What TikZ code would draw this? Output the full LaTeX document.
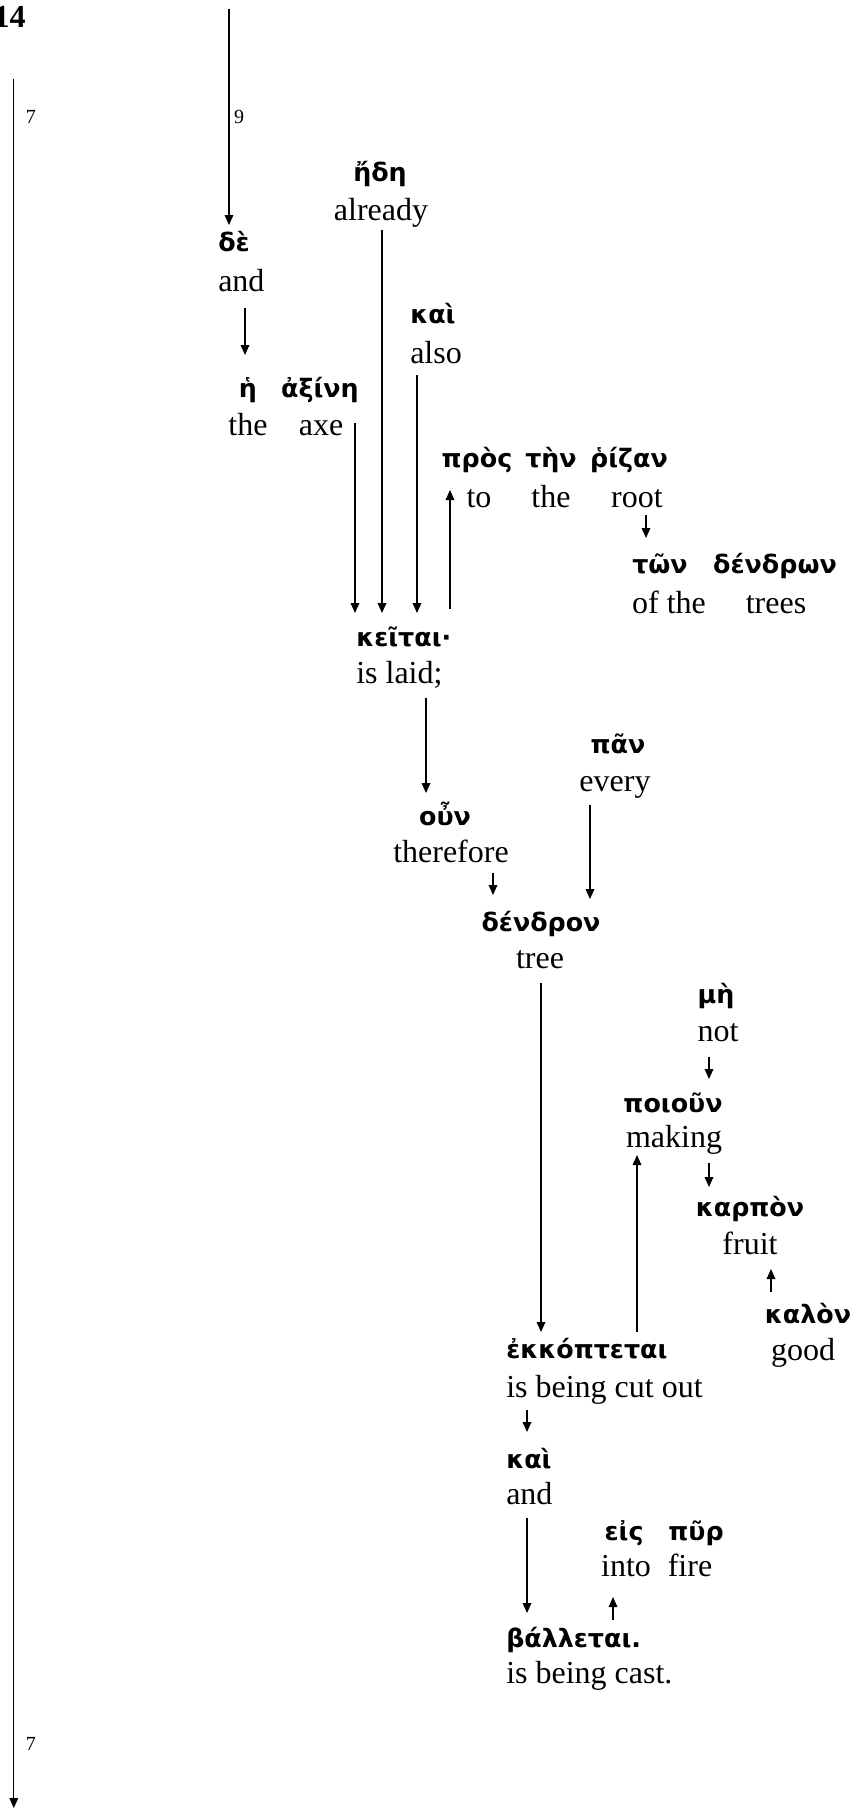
\documentclass[tikz,border=0pt]{standalone}
\usepackage{fontspec}
\setmainfont{Liberation Serif}
\newfontfamily\grk[Script=Greek]{DejaVu Sans}
\usetikzlibrary{arrows.meta}

\begin{document}
\begin{tikzpicture}[x=0.75pt,y=-0.75pt,
  gk/.style={font=\grk\bfseries\fontsize{19}{21}\selectfont, inner sep=0pt, anchor=base},
  en/.style={font=\fontsize{24}{26}\selectfont, inner sep=0pt, anchor=base},
  num/.style={font=\fontsize{15}{17}\selectfont, inner sep=0pt, anchor=base},
  link/.style={line width=0.9pt, -{Triangle[length=7.5pt,width=6.5pt]}}]
\useasboundingbox (0,0) rectangle (854,1810);

% verse number and clause markers
\node[font=\bfseries\fontsize{24}{26}\selectfont, inner sep=0pt, anchor=base east] (vs) at (26,27) {14};
\node[num] (n7a) at (31,123) {7};
\node[num] (n9) at (239,123) {9};
\node[num] (n7b) at (31,1750) {7};

% Greek words
\node[gk] (edh) at (380,181) {ἤδη};
\node[gk,anchor=base west] (de) at (218,251) {δὲ};
\node[gk,anchor=base west] (kai1) at (410,323) {καὶ};
\node[gk] (he) at (248,397) {ἡ};
\node[gk] (axine) at (320,397) {ἀξίνη};
\node[gk] (pros) at (477,467) {πρὸς};
\node[gk] (ten) at (551,467) {τὴν};
\node[gk] (rizan) at (629,467) {ῥίζαν};
\node[gk] (ton) at (660,573) {τῶν};
\node[gk] (dendron2) at (775,573) {δένδρων};
\node[gk,anchor=base west] (keitai) at (356,646) {κεῖται·};
\node[gk] (pan) at (618,753) {πᾶν};
\node[gk] (oun) at (445,825) {οὖν};
\node[gk] (dendron) at (541,931) {δένδρον};
\node[gk] (me) at (716,1003) {μὴ};
\node[gk] (poioun) at (673,1112) {ποιοῦν};
\node[gk] (karpon) at (750,1216) {καρπὸν};
\node[gk] (kalon) at (808,1323) {καλὸν};
\node[gk,anchor=base west] (ekk) at (506,1358) {ἐκκόπτεται};
\node[gk,anchor=base west] (kai2) at (506,1468) {καὶ};
\node[gk] (eis) at (624,1540) {εἰς};
\node[gk] (pur) at (696,1540) {πῦρ};
\node[gk,anchor=base west] (ball) at (506,1647) {βάλλεται.};

% English glosses
\node[en] (already) at (381,220) {already};
\node[en,anchor=base west] (and1) at (218,291) {and};
\node[en,anchor=base west] (also) at (410,363) {also};
\node[en] (the1) at (248,435) {the};
\node[en] (axe) at (321,435) {axe};
\node[en] (to) at (479,507) {to};
\node[en] (the2) at (551,507) {the};
\node[en] (root) at (637,507) {root};
\node[en] (ofthe) at (669,613) {of the};
\node[en] (trees) at (776,613) {trees};
\node[en,anchor=base west] (laid) at (356,683) {is laid;};
\node[en] (every) at (615,791) {every};
\node[en] (therefore) at (451,862) {therefore};
\node[en] (tree) at (540,968) {tree};
\node[en] (not) at (718,1041) {not};
\node[en] (making) at (674,1147) {making};
\node[en] (fruit) at (750,1254) {fruit};
\node[en] (good) at (803,1360) {good};
\node[en,anchor=base west] (cutout) at (506,1397) {is being cut out};
\node[en,anchor=base west] (and2) at (506,1504) {and};
\node[en] (into) at (626,1576) {into};
\node[en] (fire) at (690,1576) {fire};
\node[en,anchor=base west] (cast) at (506,1683) {is being cast.};

% free line ends
\coordinate (top9) at (229,9);
\coordinate (lt) at (13.8,78.5);
\coordinate (lb) at (13.8,1808);

% connectors
\draw[link] (lt) -- (lb);
\draw[link] (top9) -- ([shift={(11,-26)}]de.base west);
\draw[link] ([shift={(27,17)}]and1.base west) -- ([shift={(-3,-42)}]he.base);
\draw[link] ([shift={(34,-12)}]axe.base) -- ([shift={(-1,-33)}]keitai.base west);
\draw[link] ([shift={(1,10)}]already.base) -- ([shift={(26,-33)}]keitai.base west);
\draw[link] ([shift={(7,12)}]also.base west) -- ([shift={(61,-33)}]keitai.base west);
\draw[link] ([shift={(94,-37)}]keitai.base west) -- ([shift={(-27,23)}]pros.base);
\draw[link] ([shift={(9,8)}]root.base) -- ([shift={(-14,-35)}]ton.base);
\draw[link] ([shift={(70,15)}]laid.base west) -- ([shift={(-19,-32)}]oun.base);
\draw[link] ([shift={(42,11)}]therefore.base) -- ([shift={(-48,-36)}]dendron.base);
\draw[link] ([shift={(-25,14)}]every.base) -- ([shift={(49,-32)}]dendron.base);
\draw[link] ([shift={(1,15)}]tree.base) -- ([shift={(35,-26)}]ekk.base west);
\draw[link] ([shift={(131,-26)}]ekk.base west) -- ([shift={(-37,8)}]making.base);
\draw[link] ([shift={(-9,16)}]not.base) -- ([shift={(36,-33)}]poioun.base);
\draw[link] ([shift={(35,16)}]making.base) -- ([shift={(-41,-29)}]karpon.base);
\draw[link] ([shift={(-37,-31)}]kalon.base) -- ([shift={(21,15)}]fruit.base);
\draw[link] ([shift={(21,13)}]cutout.base west) -- ([shift={(21,-36)}]kai2.base west);
\draw[link] ([shift={(21,14)}]and2.base west) -- ([shift={(21,-34)}]ball.base west);
\draw[link] ([shift={(107,-27)}]ball.base west) -- ([shift={(-13,21)}]into.base);
\end{tikzpicture}
\end{document}
